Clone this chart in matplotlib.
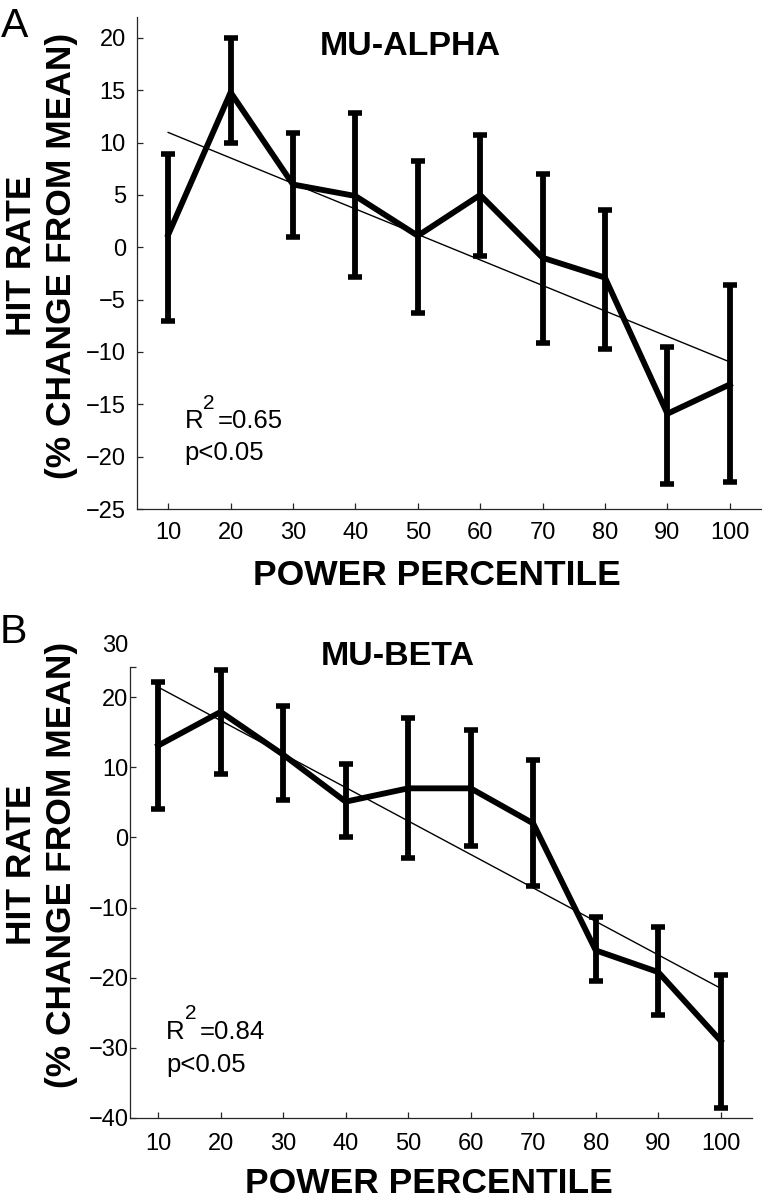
import numpy as np
import matplotlib
matplotlib.use("Agg")
import matplotlib.pyplot as plt
from matplotlib.transforms import ScaledTranslation

plt.rcParams['font.family'] = ['Liberation Sans', 'DejaVu Sans']

# --- data ---
percentile = [10, 20, 30, 40, 50, 60, 70, 80, 90, 100]

alpha_mean = [1.2, 14.8, 6.0, 4.9, 1.1, 5.0, -1.0, -2.9, -15.9, -13.1]
alpha_upper = [8.9, 20.0, 10.9, 12.8, 8.2, 10.7, 7.0, 3.6, -9.5, -3.6]
alpha_lower = [-7.0, 10.0, 1.0, -2.8, -6.3, -0.8, -9.1, -9.7, -22.6, -22.4]

beta_mean = [13.1, 17.9, 11.8, 5.1, 7.0, 7.0, 2.0, -16.1, -19.2, -29.0]
beta_upper = [22.1, 23.9, 18.7, 10.4, 17.0, 15.3, 11.0, -11.4, -12.8, -19.6]
beta_lower = [4.1, 9.1, 5.4, 0.0, -2.9, -1.2, -6.9, -20.5, -25.3, -38.6]

alpha_yticks = [-25, -20, -15, -10, -5, 0, 5, 10, 15, 20]
beta_yticks = [-40, -30, -20, -10, 0, 10, 20]
beta_ylabels = ['\u221240', '\u221230', '\u221220', '\u221210', '0', '10', '20', '30']

W, H = 762, 1199
fig = plt.figure(figsize=(W / 100, H / 100), dpi=100)


def px(x, y):
    return x / W, 1 - y / H


def draw_panel(ax, mean, lower, upper, stats):
    x = np.array(percentile)
    m = np.array(mean)
    yerr = [m - np.array(lower), np.array(upper) - m]
    coef = np.polyfit(x, m, 1)
    ends = np.array([x[0], x[-1]])
    ax.plot(ends, np.polyval(coef, ends), color='k', lw=1.0, zorder=2)
    ax.errorbar(x, m, yerr=yerr, color='k', lw=4.2, elinewidth=4.2,
                capsize=5, capthick=4, solid_joinstyle='miter', zorder=3)
    for s in ['top', 'right']:
        ax.spines[s].set_visible(False)
    for s in ['left', 'bottom']:
        ax.spines[s].set_linewidth(0.9)
        ax.spines[s].set_color('0.15')
    ax.set_xticks(percentile)
    ax.tick_params(direction='in', length=4.5, width=0.9, color='0.15',
                   labelsize=17)
    # R^2 with a raised superscript, MATLAB style
    sx, sy, rval, py = stats
    ax.annotate('R', (sx, sy), fontsize=18.5, va='baseline')
    ax.annotate('2', (sx, sy), xytext=(13.7, 14.0), textcoords='offset points',
                fontsize=15, va='baseline')
    ax.annotate('=' + rval, (sx, sy), xytext=(23.8, 0), textcoords='offset points',
                fontsize=18.5, va='baseline')
    ax.text(sx, py, 'p<0.05', fontsize=18.5, va='baseline')


# panel A
axA = fig.add_axes([137 / W, 1 - 509 / H, (761 - 137) / W, (509 - 17) / H])
draw_panel(axA, alpha_mean, alpha_lower, alpha_upper, (12.6, -17.3, '0.65', -20.3))
axA.set_xlim(5, 105)
axA.set_ylim(-25, 22)
axA.set_yticks(alpha_yticks)
axA.tick_params(axis='x', pad=9.0)
axA.tick_params(axis='y', pad=8.0)

# panel B
axB = fig.add_axes([130 / W, 1 - 1118 / H, (752 - 130) / W, (1118 - 667) / H])
draw_panel(axB, beta_mean, beta_lower, beta_upper, (11.3, -28.7, '0.84', -33.5))
axB.set_xlim(5.5, 105)
axB.set_ylim(-40, 24.3)
axB.set_yticks(beta_yticks + [24.3])
axB.set_yticklabels(beta_ylabels)
axB.tick_params(axis='x', pad=10.5)
axB.tick_params(axis='y', pad=1.0)
top_lab = axB.get_yticklabels()[-1]
top_lab.set_transform(top_lab.get_transform() + ScaledTranslation(0, 0.23, fig.dpi_scale_trans))

# titles, labels, panel letters
fig.text(*px(320, 55), 'MU-ALPHA', fontsize=24.5, fontweight='bold', va='baseline')
fig.text(*px(321, 665), 'MU-BETA', fontsize=24.5, fontweight='bold', va='baseline')

fig.text(*px(253, 585), 'POWER PERCENTILE', fontsize=25.5, fontweight='bold', va='baseline')
fig.text(*px(245, 1193), 'POWER PERCENTILE', fontsize=25.5, fontweight='bold', va='baseline')

for cy in (256, 865):
    fig.text(*px(22, cy), 'HIT RATE', fontsize=25.5, fontweight='bold',
             rotation=90, ha='center', va='center')
    fig.text(*px(62, cy), '(% CHANGE FROM MEAN)', fontsize=25.5, fontweight='bold',
             rotation=90, ha='center', va='center')

fig.text(*px(1, 37), 'A', fontsize=29.5, va='baseline')
fig.text(*px(0, 643), 'B', fontsize=29.5, va='baseline')

fig.savefig('out.png', dpi=100)
